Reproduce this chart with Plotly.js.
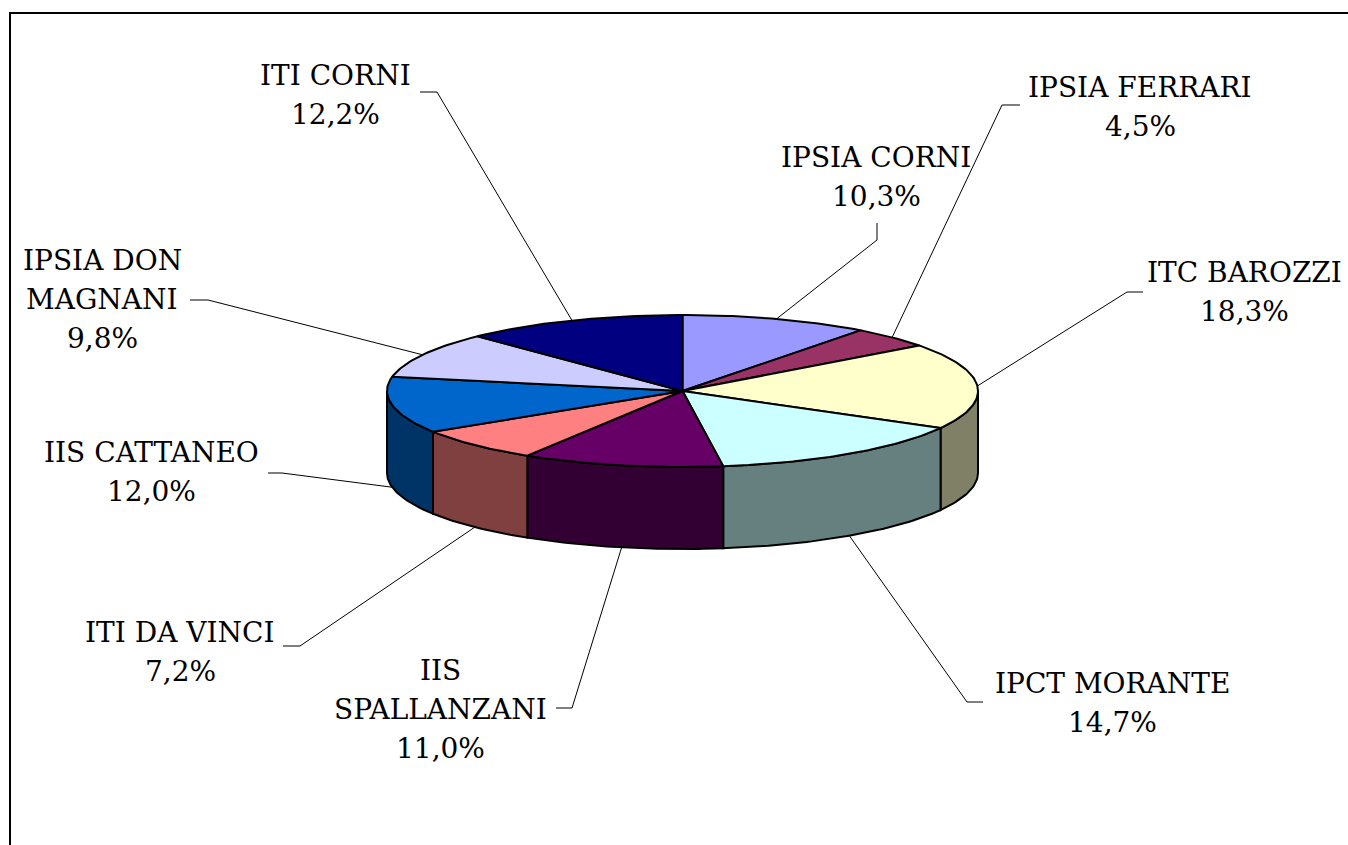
<!DOCTYPE html>
<html><head><meta charset="utf-8">
<script src="https://cdn.plot.ly/plotly-3.0.1.min.js"></script>
<style>html,body{margin:0;padding:0;background:#fff;}</style>
</head><body><div id="chart" style="width:1348px;height:845px;"></div>
<script>
// ---- data ----
const schools = ['IPSIA CORNI','IPSIA FERRARI','ITC BAROZZI','IPCT MORANTE','IIS<br>SPALLANZANI','ITI DA VINCI','IIS CATTANEO','IPSIA DON<br>MAGNANI','ITI CORNI'];
const shares = [10.3, 4.5, 18.3, 14.7, 11.0, 7.2, 12.0, 9.8, 12.2];
const topColors = ['#9999FF','#993366','#FFFFCC','#CCFFFF','#660066','#FF8080','#0066CC','#CCCCFF','#000080'];
const sideColors = ['#4D4D80','#4D1A33','#808066','#668080','#330033','#804040','#003366','#666680','#000040'];

// ---- layout only ----
const PIE = {cx: 682.5, cy: 391, rx: 295.5, ry: 76, depth: 82};
const labelPos = [
  {x: 876,  y: 157, leader: [[877,223],[877,240]]},
  {x: 1140, y: 87,  leader: [[1020,105],[1002,105]]},
  {x: 1244, y: 272, leader: [[1143,292],[1127,292]]},
  {x: 1112, y: 683, leader: [[983,702],[967,702]]},
  {x: 440,  y: 670, leader: [[556,708],[572,708]]},
  {x: 180,  y: 632, leader: [[283,646],[300,646]]},
  {x: 151,  y: 452, leader: [[268,473],[282,473]]},
  {x: 102,  y: 260, leader: [[190,300],[208,300]]},
  {x: 335,  y: 75,  leader: [[420,92],[437,92]]}
];
const LINE_GAP = 39;
const FONT = {family: 'DejaVu Serif, Liberation Serif, serif', size: 28, color: '#000'};

function pt(deg, dy) {
  const r = deg * Math.PI / 180;
  return [PIE.cx + PIE.rx * Math.sin(r), PIE.cy - PIE.ry * Math.cos(r) + (dy || 0)];
}
function arc(a, b, dy) {
  const pts = [];
  const n = Math.max(2, Math.ceil(Math.abs(b - a)));
  for (let i = 0; i <= n; i++) pts.push(pt(a + (b - a) * i / n, dy));
  return pts;
}

const total = shares.reduce((s, v) => s + v, 0);
const starts = [], ends = [];
let acc = 0;
shares.forEach(v => { starts.push(acc / total * 360); acc += v; ends.push(acc / total * 360); });

const traces = [];
// side walls (front half only: 90..270 deg)
shares.forEach((v, i) => {
  const a = Math.max(starts[i], 90), b = Math.min(ends[i], 270);
  if (b <= a) return;
  const top = arc(a, b, 0);
  const bot = arc(b, a, PIE.depth);
  const poly = top.concat(bot);
  poly.push(top[0]);
  traces.push({type: 'scatter', mode: 'lines', x: poly.map(p => p[0]), y: poly.map(p => p[1]),
    fill: 'toself', fillcolor: sideColors[i], line: {color: '#000', width: 2},
    hoverinfo: 'skip', showlegend: false});
});
// top faces
shares.forEach((v, i) => {
  const poly = [[PIE.cx, PIE.cy]].concat(arc(starts[i], ends[i], 0));
  poly.push([PIE.cx, PIE.cy]);
  traces.push({type: 'scatter', mode: 'lines', x: poly.map(p => p[0]), y: poly.map(p => p[1]),
    fill: 'toself', fillcolor: topColors[i], line: {color: '#000', width: 2},
    hoverinfo: 'skip', showlegend: false, name: schools[i].replace('<br>', ' ')});
});
// leader lines and labels
const annotations = [];
shares.forEach((v, i) => {
  const mid = (starts[i] + ends[i]) / 2;
  const front = mid > 90 && mid < 270;
  const end = pt(mid, front ? PIE.depth : 0);
  const L = labelPos[i];
  const pts = L.leader.concat([end]);
  traces.push({type: 'scatter', mode: 'lines', x: pts.map(p => p[0]), y: pts.map(p => p[1]),
    line: {color: '#000', width: 1}, hoverinfo: 'skip', showlegend: false});
  const lines = schools[i].split('<br>').concat([v.toFixed(1).replace('.', ',') + '%']);
  lines.forEach((t, k) => {
    annotations.push({x: L.x, y: L.y + k * LINE_GAP, xref: 'x', yref: 'y', text: t,
      showarrow: false, xanchor: 'center', yanchor: 'middle', font: FONT});
  });
});

const layout = {
  width: 1348, height: 845,
  margin: {l: 0, r: 0, t: 0, b: 0},
  paper_bgcolor: '#fff', plot_bgcolor: '#fff',
  xaxis: {range: [0, 1348], visible: false, fixedrange: true},
  yaxis: {range: [845, 0], visible: false, fixedrange: true},
  showlegend: false,
  annotations: annotations,
  shapes: [{type: 'rect', xref: 'x', yref: 'y', x0: 10, y0: 13, x1: 1400, y1: 900,
    line: {color: '#000', width: 2}, fillcolor: 'rgba(0,0,0,0)', layer: 'below'}]
};
Plotly.newPlot('chart', traces, layout, {displayModeBar: false, staticPlot: true});
</script></body></html>
